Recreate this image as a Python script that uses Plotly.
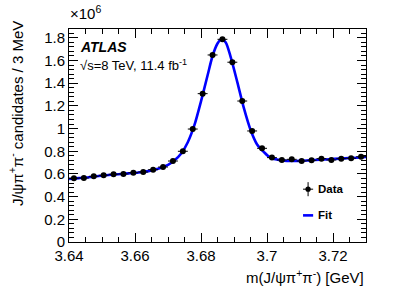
import plotly.graph_objects as go

# Data: bin centres (GeV) and candidates per 3 MeV (in units of 1e6)
mass = [3.6415, 3.6445, 3.6475, 3.6505, 3.6535, 3.6565, 3.6595, 3.6625, 3.6655, 3.6685,
        3.6715, 3.6745, 3.6775, 3.6805, 3.6835, 3.6865, 3.6895, 3.6925, 3.6955, 3.6985,
        3.7015, 3.7045, 3.7075, 3.7105, 3.7135, 3.7165, 3.7195, 3.7225, 3.7255, 3.7285]
counts = [0.562, 0.564, 0.579, 0.588, 0.597, 0.600, 0.611, 0.617, 0.638, 0.661,
          0.714, 0.800, 0.996, 1.308, 1.649, 1.787, 1.585, 1.243, 0.979, 0.826,
          0.744, 0.723, 0.729, 0.714, 0.720, 0.735, 0.723, 0.735, 0.738, 0.752]
count_err = [0.008] * len(counts)
bin_half = [0.0015] * len(mass)

# Fit curve
fit_x = [3.6400, 3.6430, 3.6460, 3.6490, 3.6520, 3.6550, 3.6580, 3.6610, 3.6640, 3.6670,
         3.6700, 3.6720, 3.6740, 3.6760, 3.6780, 3.6800, 3.6820, 3.6835, 3.6850, 3.6862,
         3.6875, 3.6890, 3.6910, 3.6930, 3.6950, 3.6970, 3.6990, 3.7010, 3.7040, 3.7070,
         3.7100, 3.7130, 3.7160, 3.7190, 3.7220, 3.7250, 3.7280, 3.7300]
fit_y = [0.556, 0.563, 0.571, 0.582, 0.591, 0.598, 0.605, 0.613, 0.625, 0.645,
         0.680, 0.720, 0.780, 0.880, 1.030, 1.240, 1.470, 1.640, 1.750, 1.790,
         1.760, 1.630, 1.410, 1.180, 0.990, 0.860, 0.795, 0.745, 0.722, 0.715,
         0.715, 0.720, 0.725, 0.730, 0.735, 0.740, 0.745, 0.750]

x_ticks = [3.64, 3.66, 3.68, 3.70, 3.72]
x_labels = ["3.64", "3.66", "3.68", "3.7", "3.72"]
y_ticks = [0, 0.2, 0.4, 0.6, 0.8, 1.0, 1.2, 1.4, 1.6, 1.8]
y_labels = ["0", "0.2", "0.4", "0.6", "0.8", "1", "1.2", "1.4", "1.6", "1.8"]

FONT = "Liberation Sans, Arial, Helvetica, sans-serif"

fig = go.Figure()
fig.add_trace(go.Scatter(
    x=fit_x, y=fit_y, mode="lines", line=dict(color="#0000ff", width=2.6, shape="spline", smoothing=0.8),
    name="Fit", showlegend=False, hoverinfo="skip"))
fig.add_trace(go.Scatter(
    x=mass, y=counts, mode="markers",
    marker=dict(color="black", size=6),
    error_x=dict(type="data", array=bin_half, color="black", thickness=1, width=0),
    error_y=dict(type="data", array=count_err, color="black", thickness=1, width=0),
    name="Data", showlegend=False))

axis_common = dict(showline=True, linecolor="black", linewidth=1, mirror="ticks",
                   ticks="inside", tickcolor="black", showgrid=False, zeroline=False,
                   tickfont=dict(family=FONT, size=15, color="black"))

fig.update_xaxes(range=[3.64, 3.73], tickvals=x_ticks, ticktext=x_labels, ticklen=9,
                 minor=dict(ticks="inside", ticklen=5, dtick=0.005, tick0=3.64, tickcolor="black"),
                 **axis_common)
fig.update_yaxes(range=[0, 1.878], tickvals=y_ticks, ticktext=y_labels, ticklen=9,
                 minor=dict(ticks="inside", ticklen=5, dtick=0.04, tick0=0, tickcolor="black"),
                 **axis_common)

ann = []
ann.append(dict(text="×10<sup>6</sup>", xref="paper", yref="paper", x=-0.005, y=1.077,
                xanchor="left", yanchor="middle", showarrow=False,
                font=dict(family=FONT, size=15, color="black")))
ann.append(dict(text="<b><i>ATLAS</i></b>", xref="paper", yref="paper", x=0.03, y=0.915,
                xanchor="left", yanchor="middle", showarrow=False,
                font=dict(family=FONT, size=14, color="black")))
ann.append(dict(text="√s=8 TeV, 11.4 fb<sup>-1</sup>", xref="paper", yref="paper", x=0.03, y=0.832,
                xanchor="left", yanchor="middle", showarrow=False,
                font=dict(family=FONT, size=13, color="black")))
ann.append(dict(text="J/ψπ<sup>+</sup>π<sup>-</sup> candidates / 3 MeV", xref="paper", yref="paper",
                x=-0.178, y=1.045, xanchor="center", yanchor="top", textangle=-90, showarrow=False,
                font=dict(family=FONT, size=15, color="black")))
ann.append(dict(text="m(J/ψπ<sup>+</sup>π<sup>-</sup>) [GeV]", xref="paper", yref="paper",
                x=1.0, y=-0.16, xanchor="right", yanchor="middle", showarrow=False,
                font=dict(family=FONT, size=15, color="black")))
# legend labels
ann.append(dict(text="<b>Data</b>", xref="paper", yref="paper", x=0.83, y=0.248,
                xanchor="left", yanchor="middle", showarrow=False,
                font=dict(family=FONT, size=11.5, color="black")))
ann.append(dict(text="<b>Fit</b>", xref="paper", yref="paper", x=0.83, y=0.125,
                xanchor="left", yanchor="middle", showarrow=False,
                font=dict(family=FONT, size=11.5, color="black")))

# legend symbols (paper coordinates)
lx = 0.805
shapes = [
    dict(type="line", xref="paper", yref="paper", x0=lx - 0.017, x1=lx + 0.017, y0=0.248, y1=0.248,
         line=dict(color="black", width=1)),
    dict(type="line", xref="paper", yref="paper", x0=lx, x1=lx, y0=0.215, y1=0.281,
         line=dict(color="black", width=1)),
    dict(type="circle", xref="paper", yref="paper", x0=lx - 0.009, x1=lx + 0.009, y0=0.236, y1=0.26,
         fillcolor="black", line=dict(color="black", width=0)),
    dict(type="line", xref="paper", yref="paper", x0=lx - 0.017, x1=lx + 0.017, y0=0.125, y1=0.125,
         line=dict(color="#0000ff", width=2.6)),
]

fig.update_layout(width=407, height=292, margin=dict(l=69, r=41, t=29, b=50),
                  paper_bgcolor="white", plot_bgcolor="white",
                  annotations=ann, shapes=shapes, showlegend=False,
                  font=dict(family=FONT, color="black"))

fig.write_html("out.html", config={"displayModeBar": False},
               post_script="document.body.style.margin='0';document.body.style.padding='0';")
